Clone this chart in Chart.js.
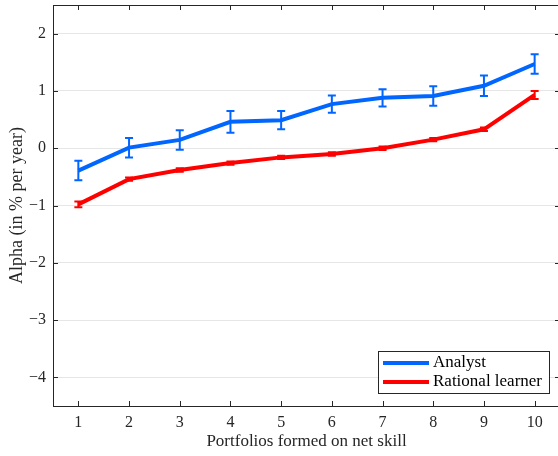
<!DOCTYPE html>
<html>
<head>
<meta charset="utf-8">
<script src="https://cdn.jsdelivr.net/npm/chart.js@4.4.1/dist/chart.umd.min.js"></script>
<style>
  html, body { margin: 0; padding: 0; background: #fff; overflow: hidden; }
  #wrap { width: 562px; height: 456px; }
</style>
</head>
<body>
<div id="wrap"><canvas id="myChart" width="562" height="456"></canvas></div>
<script>
// portfolios 1..10
var portfolios = [1, 2, 3, 4, 5, 6, 7, 8, 9, 10];
var analystAlpha = [-0.39, 0.01, 0.145, 0.46, 0.49, 0.77, 0.88, 0.91, 1.09, 1.47];
var analystErr = [0.17, 0.17, 0.17, 0.19, 0.16, 0.15, 0.15, 0.17, 0.18, 0.17];
var rationalAlpha = [-0.98, -0.54, -0.38, -0.26, -0.16, -0.10, 0.0, 0.15, 0.33, 0.93];
var rationalErr = [0.05, 0.03, 0.03, 0.03, 0.03, 0.03, 0.03, 0.03, 0.03, 0.07];
var yTicks = [-4, -3, -2, -1, 0, 1, 2];

var FONT = "'Liberation Serif', 'DejaVu Serif', serif";
var AXIS = '#262626';

function pts(ys) {
    return portfolios.map(function (x, i) { return { x: x, y: ys[i] }; });
}

// error bars + inward ticks + box + legend
var extras = {
    id: 'extras',
    afterDatasetsDraw: function (chart) {
        var ctx = chart.ctx;
        var xs = chart.scales.x, ys = chart.scales.y;
        ctx.save();
        chart.data.datasets.forEach(function (ds) {
            ctx.strokeStyle = ds.borderColor;
            ctx.lineWidth = 2;
            ds.errors.forEach(function (e, i) {
                var px = xs.getPixelForValue(portfolios[i]);
                var top = ys.getPixelForValue(ds.data[i].y + e);
                var bot = ys.getPixelForValue(ds.data[i].y - e);
                ctx.beginPath();
                ctx.moveTo(px, top); ctx.lineTo(px, bot);
                ctx.moveTo(px - 4, top); ctx.lineTo(px + 4, top);
                ctx.moveTo(px - 4, bot); ctx.lineTo(px + 4, bot);
                ctx.stroke();
            });
        });
        ctx.restore();
    },
    afterDraw: function (chart) {
        var ctx = chart.ctx, a = chart.chartArea;
        var xs = chart.scales.x, ys = chart.scales.y;
        ctx.save();
        // box
        ctx.strokeStyle = AXIS;
        ctx.lineWidth = 1;
        ctx.strokeRect(a.left + 0.5, a.top + 0.5, a.right - a.left, a.bottom - a.top);
        // inward ticks
        ctx.beginPath();
        portfolios.forEach(function (v) {
            var px = Math.round(xs.getPixelForValue(v)) + 0.5;
            ctx.moveTo(px, a.bottom); ctx.lineTo(px, a.bottom - 5);
            ctx.moveTo(px, a.top); ctx.lineTo(px, a.top + 5);
        });
        yTicks.forEach(function (v) {
            var py = Math.round(ys.getPixelForValue(v)) + 0.5;
            ctx.moveTo(a.left, py); ctx.lineTo(a.left + 5, py);
            ctx.moveTo(a.right, py); ctx.lineTo(a.right - 5, py);
        });
        ctx.stroke();

        // legend box
        var lx = 378, ly = 351, lw = 171, lh = 42;
        ctx.fillStyle = '#fff';
        ctx.fillRect(lx, ly, lw, lh);
        ctx.strokeStyle = AXIS;
        ctx.strokeRect(lx + 0.5, ly + 0.5, lw, lh);
        ctx.font = '17px ' + FONT;
        ctx.textBaseline = 'middle';
        chart.data.datasets.forEach(function (ds, i) {
            var yy = ly + 12 + i * 19;
            ctx.strokeStyle = ds.borderColor;
            ctx.lineWidth = 4;
            ctx.beginPath();
            ctx.moveTo(lx + 5, yy); ctx.lineTo(lx + 51, yy);
            ctx.stroke();
            ctx.fillStyle = '#000';
            ctx.fillText(ds.label, lx + 55, yy);
        });
        ctx.restore();
    }
};

var ctx = document.getElementById('myChart').getContext('2d');
var chart = new Chart(ctx, {
    type: 'line',
    data: {
        datasets: [{
            label: 'Analyst',
            data: pts(analystAlpha),
            errors: analystErr,
            borderColor: '#0066ff',
            borderWidth: 4,
            pointRadius: 0,
            fill: false
        }, {
            label: 'Rational learner',
            data: pts(rationalAlpha),
            errors: rationalErr,
            borderColor: '#ff0000',
            borderWidth: 4,
            pointRadius: 0,
            fill: false
        }]
    },
    options: {
        responsive: false,
        animation: false,
        layout: { padding: { left: 0, top: 5, right: 2, bottom: 0 } },
        plugins: { legend: { display: false }, tooltip: { enabled: false } },
        scales: {
            x: {
                type: 'linear',
                min: 0.5, max: 10.5,
                afterFit: function (s) { s.height = 50; s.paddingLeft = 0; s.paddingRight = 0; },
                afterBuildTicks: function (s) {
                    s.ticks = portfolios.map(function (v) { return { value: v }; });
                },
                grid: { display: false, drawTicks: false },
                border: { display: false },
                ticks: { padding: 7, color: AXIS, font: { family: FONT, size: 16 } },
                title: {
                    display: true, text: 'Portfolios formed on net skill',
                    color: AXIS, font: { family: FONT, size: 17 }, padding: { top: 2 }
                }
            },
            y: {
                min: -4.5, max: 2.5,
                afterFit: function (s) { s.width = 53; s.paddingTop = 0; s.paddingBottom = 0; },
                afterBuildTicks: function (s) {
                    s.ticks = yTicks.map(function (v) { return { value: v }; });
                },
                grid: { color: '#e6e6e6', drawTicks: false },
                border: { display: false },
                ticks: {
                    padding: 7, color: AXIS, font: { family: FONT, size: 16 },
                    callback: function (v) { return v < 0 ? '\u2212' + Math.abs(v) : '' + v; }
                },
                title: {
                    display: true, text: 'Alpha (in % per year)',
                    color: AXIS, font: { family: FONT, size: 18 }, padding: { top: 6, bottom: 0 }
                }
            }
        }
    },
    plugins: [extras]
});
</script>
</body>
</html>
